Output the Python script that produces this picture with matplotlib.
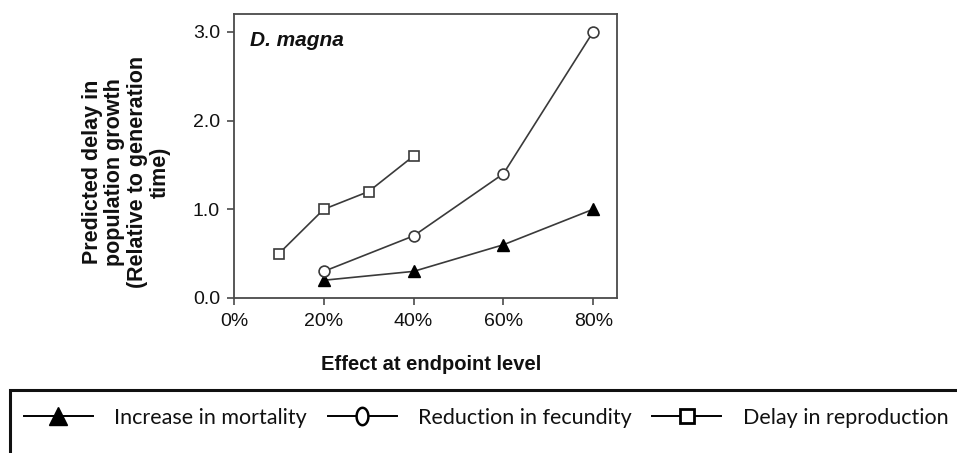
import matplotlib
matplotlib.use("Agg")
import matplotlib.pyplot as plt
import numpy as np
from matplotlib.lines import Line2D
from matplotlib.patches import Rectangle
from matplotlib.path import Path

# ---- data ----
x_mortality = [20, 40, 60, 80]
y_mortality = [0.2, 0.3, 0.6, 1.0]
x_fecundity = [20, 40, 60, 80]
y_fecundity = [0.3, 0.7, 1.4, 3.0]
x_delay = [10, 20, 30, 40]
y_delay = [0.5, 1.0, 1.2, 1.6]
x_ticks = [0, 20, 40, 60, 80]
x_ticklabels = ["0%", "20%", "40%", "60%", "80%"]
y_ticks = [0.0, 1.0, 2.0, 3.0]
y_ticklabels = ["0.0", "1.0", "2.0", "3.0"]
series_labels = ["Increase in mortality", "Reduction in fecundity", "Delay in reproduction"]

W, H = 957, 453
fig = plt.figure(figsize=(W / 100, H / 100), dpi=100)
ax = fig.add_axes([234 / W, 1 - 298 / H, (617 - 234) / W, (298 - 14) / H])

lc = "#3a3a3a"
ax.plot(x_mortality, y_mortality, color=lc, lw=1.2, marker="^", ms=8.5,
        mfc="black", mec="black", zorder=3)
ax.plot(x_fecundity, y_fecundity, color=lc, lw=1.2, marker="o", ms=7.8,
        mfc="white", mec=lc, mew=1.2, zorder=3)
ax.plot(x_delay, y_delay, color=lc, lw=1.2, marker="s", ms=7.5,
        mfc="white", mec=lc, mew=1.2, zorder=3)

ax.set_xlim(0, 85.3)
ax.set_ylim(0, 3.2)
ax.set_xticks(x_ticks)
ax.set_xticklabels(x_ticklabels)
ax.set_yticks(y_ticks)
ax.set_yticklabels(y_ticklabels)
for s in ax.spines.values():
    s.set_color("#4a4a4a")
    s.set_linewidth(1.3)
ax.tick_params(axis="both", direction="out", length=5, width=1.2, color="#4a4a4a",
               labelsize=14, labelcolor="#111111")
ax.tick_params(axis="x", pad=6)
ax.tick_params(axis="y", pad=5)
for lab in ax.get_xticklabels() + ax.get_yticklabels():
    lab.set_family("Liberation Sans")

ax.text(0.042, 0.908, "D. magna", transform=ax.transAxes, fontsize=15,
        fontweight="bold", fontstyle="italic", family="Liberation Sans",
        va="center", ha="left", color="#111111")

fig.text(431 / W, 1 - 364 / H, "Effect at endpoint level", ha="center", va="center",
         fontsize=14.5, fontweight="bold", family="Liberation Sans", color="#111111")

fig.text(126 / W, 1 - 172 / H,
         "Predicted delay in\npopulation growth\n(Relative to generation\ntime)",
         rotation=90, ha="center", va="center", multialignment="center",
         fontsize=15.5, fontweight="bold", family="Liberation Sans",
         linespacing=1.1, color="#111111")

# legend frame (runs past the right and bottom edges of the picture)
fig.patches.append(Rectangle((10 / W, -0.05), 1.0, 0.05 + 1 - 390 / H,
                             transform=fig.transFigure, fill=False,
                             edgecolor="#111111", linewidth=2.2))

t = np.linspace(0, 2 * np.pi, 60)
ellipse = Path(np.column_stack([0.68 * np.cos(t), np.sin(t)]), closed=True)
handles = [
    Line2D([], [], color="black", lw=1.4, marker="^", ms=13.5, mfc="black", mec="black"),
    Line2D([], [], color="black", lw=1.4, marker=ellipse, ms=12.5, mfc="white", mec="black", mew=1.8),
    Line2D([], [], color="black", lw=1.4, marker="s", ms=9.5, mfc="white", mec="black", mew=2.0),
]
leg = fig.legend(handles, series_labels, loc="center left",
                 bbox_to_anchor=(24 / W, 1 - 418 / H), ncol=3, frameon=False,
                 prop={"family": "Lato", "size": 15.5}, handlelength=3.2,
                 handletextpad=1.0, columnspacing=0.95, borderaxespad=0, borderpad=0)
for txt in leg.get_texts():
    txt.set_color("#111111")

fig.savefig("out.png", dpi=100)
